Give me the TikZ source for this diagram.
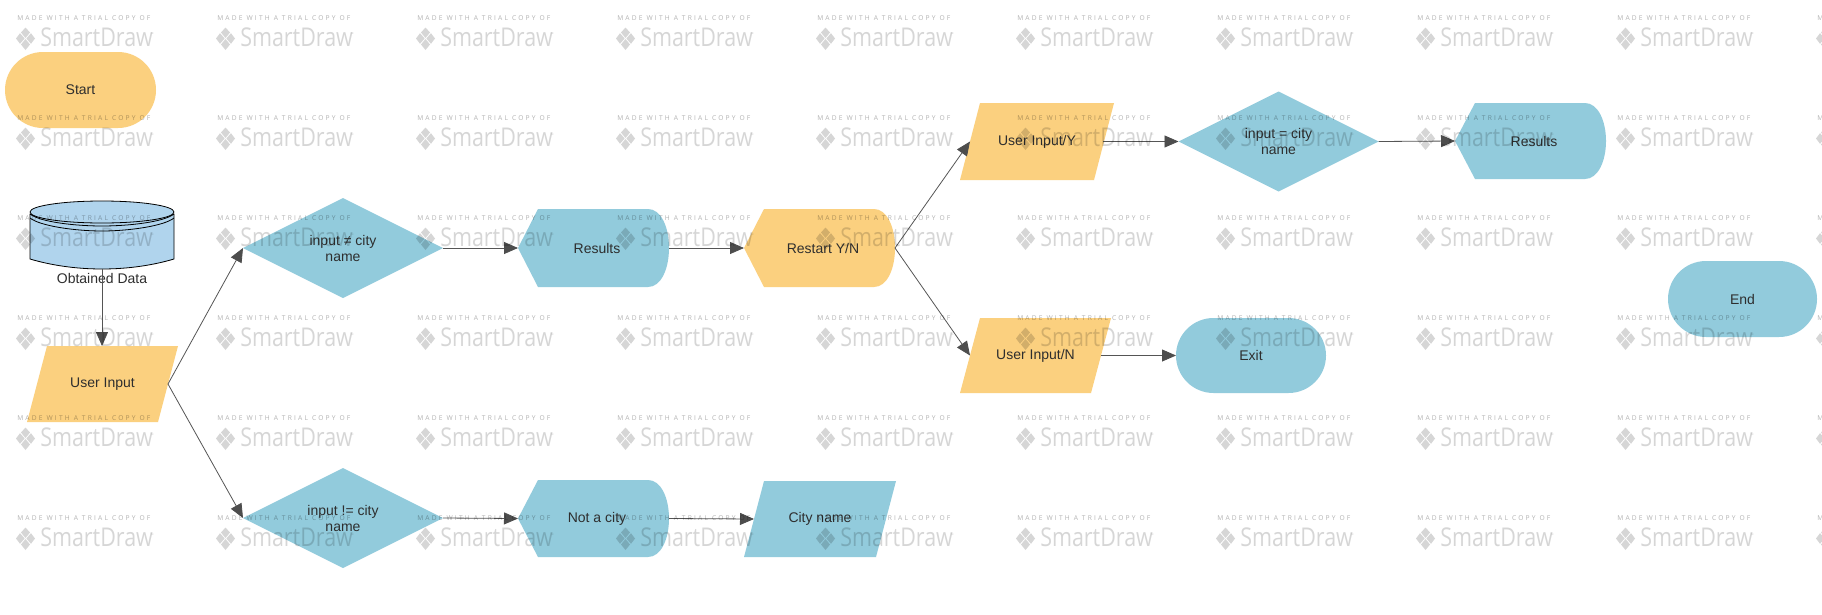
\documentclass[tikz,border=0pt]{standalone}
\usepackage{fontspec}
\setmainfont{Liberation Sans}
\newfontfamily\wmfont[LetterSpace=33]{Open Sans}
\newfontfamily\sdfont[FakeStretch=0.83]{Open Sans}
\usetikzlibrary{arrows.meta,shapes.geometric,shapes.misc}
\definecolor{orangefill}{HTML}{FBD07F}
\definecolor{bluefill}{HTML}{92CBDC}
\definecolor{cylfill}{HTML}{B0D4ED}
\definecolor{linegray}{HTML}{555555}
\definecolor{headgray}{HTML}{4D4D4D}
\definecolor{textdark}{HTML}{2E2E2E}
\newdimen\pxu \pxu=0.75pt
\tikzset{
  x=0.75pt,y=-0.75pt,
  flow/.style={inner sep=0pt,outer sep=0pt,align=center,text=textdark,font=\fontsize{10.5}{12}\selectfont},
  boxsize/.style n args={2}{flow,rectangle,minimum width=#1*\pxu,minimum height=#2*\pxu},
  para/.style n args={3}{boxsize={#1}{#2},path picture={
     \fill[#3] ([xshift=20*\pxu]path picture bounding box.north west)
       -- (path picture bounding box.north east)
       -- ([xshift=-20*\pxu]path picture bounding box.south east)
       -- (path picture bounding box.south west) -- cycle;}},
  hexa/.style n args={3}{boxsize={#1}{#2},execute at begin node={\hspace*{5.25pt}},path picture={
     \fill[#3] (path picture bounding box.west)
       -- ([xshift=20*\pxu]path picture bounding box.north west)
       -- ([xshift=-21*\pxu]path picture bounding box.north east)
       .. controls ([xshift=-8*\pxu]path picture bounding box.north east)
       and ([yshift=-18*\pxu]path picture bounding box.north east) .. (path picture bounding box.east)
       .. controls ([yshift=18*\pxu]path picture bounding box.south east)
       and ([xshift=-8*\pxu]path picture bounding box.south east) .. ([xshift=-21*\pxu]path picture bounding box.south east)
       -- ([xshift=20*\pxu]path picture bounding box.south west) -- cycle;}},
  stad/.style n args={3}{flow,rounded rectangle,fill=#3,minimum width=#1*\pxu,minimum height=#2*\pxu,rounded rectangle arc length=180},
  dia/.style={flow,diamond,aspect=2,fill=bluefill,minimum width=200*\pxu,minimum height=100*\pxu},
  conn/.style={draw=linegray,line width=0.6pt,-{Triangle[length=10.5pt,width=9pt,fill=headgray,color=headgray]},shorten >=0pt},
  wmsmall/.style={inner sep=0pt,anchor=north west,text=black,opacity=0.30,font=\wmfont\fontsize{5}{6}\selectfont},
  wmbig/.style={inner sep=0pt,anchor=base west,text=black,opacity=0.16,font=\sdfont\fontsize{19.4}{20}\selectfont},
  wmtm/.style={inner sep=0pt,anchor=base west,text=black,opacity=0.25,font=\sdfont\fontsize{2.6}{3}\selectfont},
  wmlogo/.style={fill=black,opacity=0.16}
}
\begin{document}
\begin{tikzpicture}
\useasboundingbox (0,0) rectangle (1822,614);
\fill[white] (0,0) rectangle (1822,614);

% terminators
\node[stad={151}{76}{orangefill}] (start) at (80.5,90) {Start};
\node[stad={149}{76}{bluefill}] (endn) at (1742.5,299) {End};
\node[stad={150}{75}{bluefill}] (exitn) at (1251,355.5) {Exit};

% data store
\node[boxsize={144}{68}] (db) at (102,235) {};
\fill[cylfill,draw=black,line width=0.6pt] (30,214) -- (30,259) .. controls (50,265) and (75,269) .. (102,269)
   .. controls (129,269) and (154,265) .. (174,259) -- (174,214) -- cycle;
\fill[cylfill,draw=black,line width=0.6pt] (102,212) ellipse [x radius=72,y radius=11];
\draw[black,line width=0.6pt] (30,214) .. controls (40,222) and (75,226) .. (102,226) .. controls (129,226) and (164,222) .. (174,214);
\draw[black,line width=0.6pt] (30,218) .. controls (40,226) and (75,231) .. (102,231) .. controls (129,231) and (164,226) .. (174,218);
\node[flow] (dblabel) at (102,278) {Obtained Data};

% inputs
\node[para={151}{76}{orangefill}] (uinput) at (102.5,384) {User Input};
\node[para={154}{77}{orangefill}] (uiy) at (1037,141.5) {User Input/Y};
\node[para={151}{75}{orangefill}] (uin) at (1035.5,355.5) {User Input/N};
\node[para={152}{76}{bluefill}] (cityname) at (820,519) {City name};

% decisions
\node[dia] (d1) at (343,248) {input ≠ city\\name};
\node[dia] (d2) at (343,518) {input != city\\name};
\node[dia] (d3) at (1278.5,141.5) {input = city\\name};

% displays
\node[hexa={151}{78}{bluefill}] (res1) at (593.5,248) {Results};
\node[hexa={151}{78}{orangefill}] (restart) at (819.5,248) {Restart Y/N};
\node[hexa={151}{76}{bluefill}] (res2) at (1530.5,141) {Results};
\node[hexa={151}{77}{bluefill}] (notcity) at (593.5,518.5) {Not a city};

% connectors
\draw[conn] (db.south) -- (uinput.north -| db.south);
\draw[conn] ([xshift=-10*\pxu]uinput.east) -- (d1.west);
\draw[conn] ([xshift=-10*\pxu]uinput.east) -- (d2.west);
\draw[conn] (d1.east) -- (res1.west);
\draw[conn] (res1.east) -- (restart.west);
\draw[conn] (restart.east) -- ([xshift=10*\pxu]uiy.west);
\draw[conn] (restart.east) -- ([xshift=10*\pxu]uin.west);
\draw[conn] ([xshift=-11*\pxu]uiy.east) -- (d3.west);
\draw[conn] (d3.east) -- (res2.west);
\draw[conn] ([xshift=-10*\pxu]uin.east) -- (exitn.west);
\draw[conn] (d2.east) -- (notcity.west);
\draw[conn] (notcity.east) -- ([xshift=10*\pxu]cityname.west);

% watermark
\begin{scope}
\clip (0,0) rectangle (1822,614);
\foreach \i in {0,...,9}{
 \foreach \j in {0,...,5}{
  \begin{scope}[shift={(17+200*\i,18+100*\j)}]
    \node[wmsmall] (wmt-\i-\j) at (0,-2.5) {MADE WITH A TRIAL COPY OF};
    \node[wmbig] (wmb-\i-\j) at (23,28.7) {SmartDraw};
    \node[wmtm] (wmm-\i-\j) at (134,18) {™};
    \fill[wmlogo] (8.5,9.5) -- (13,14.5) -- (8.5,20) -- (4,14.5) -- cycle;
    \fill[wmlogo] (14,15.2) -- (18,20.5) -- (14,25.8) -- (9.3,20.5) -- cycle;
    \fill[wmlogo] (3,15.2) -- (7.7,20.5) -- (3,25.8) -- (-1,20.5) -- cycle;
    \fill[wmlogo] (8.5,21) -- (13,26.5) -- (8.5,32) -- (4,26.5) -- cycle;
  \end{scope}
 }
}
\end{scope}
\end{tikzpicture}
\end{document}
